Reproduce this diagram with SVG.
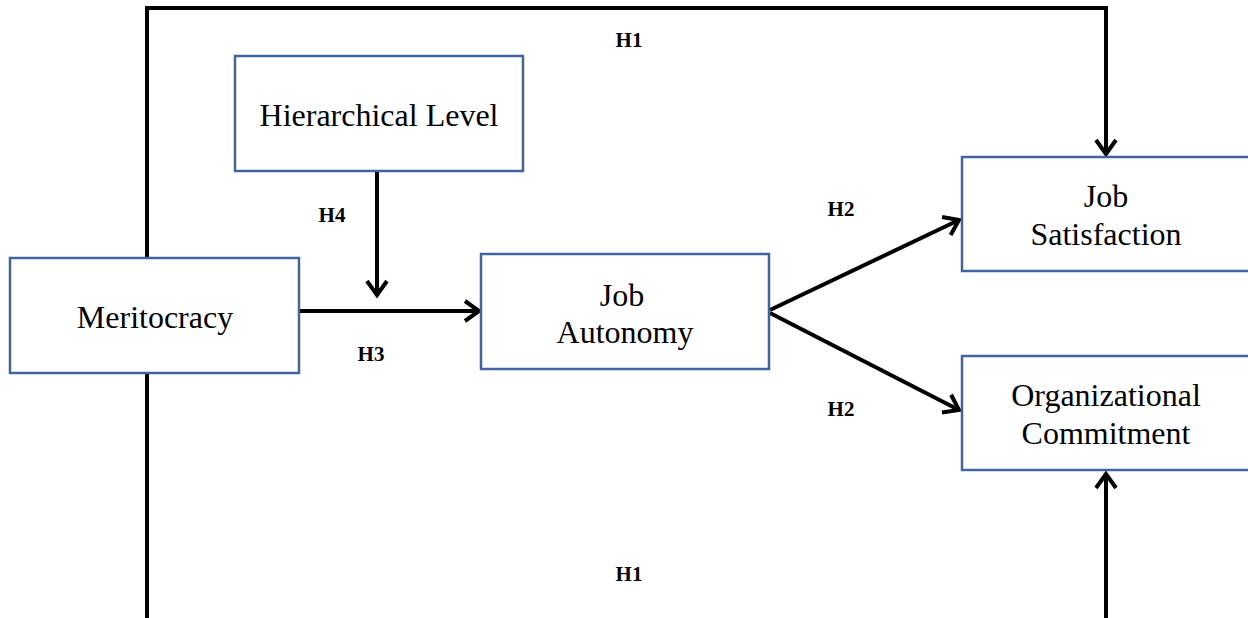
<svg xmlns="http://www.w3.org/2000/svg" width="1248" height="618" viewBox="0 0 1248 618">
<style>
.box{fill:#fff;stroke:#41649C;stroke-width:2.5}
.t{font-family:"Liberation Serif","Times New Roman",serif;font-size:32px;fill:#000;text-anchor:middle}
.l{font-family:"Liberation Serif","Times New Roman",serif;font-size:21px;font-weight:bold;fill:#000;text-anchor:middle}
.c{fill:none;stroke:#000;stroke-width:4}
</style>
<defs>
<marker id="ah" markerUnits="userSpaceOnUse" markerWidth="30" markerHeight="30" refX="15" refY="12" orient="auto" overflow="visible">
<path d="M1,2 L15,12 L1,22" fill="none" stroke="#000" stroke-width="4"/>
</marker>
</defs>
<rect width="1248" height="618" fill="#fff"/>
<g id="connectors">
<polyline class="c" points="147,258 147,8 1106,8 1106,154" marker-end="url(#ah)"/>
<line class="c" x1="147" y1="373" x2="147" y2="618"/>
<line class="c" x1="1106" y1="618" x2="1106" y2="474" marker-end="url(#ah)"/>
<line class="c" x1="377" y1="171" x2="377" y2="295" marker-end="url(#ah)"/>
<line class="c" x1="300" y1="311" x2="479" y2="311" marker-end="url(#ah)"/>
<line class="c" x1="770" y1="310" x2="959" y2="220" marker-end="url(#ah)"/>
<line class="c" x1="770" y1="313" x2="959" y2="410" marker-end="url(#ah)"/>
</g>
<g id="labels">
<text class="l" x="629" y="47">H1</text>
<text class="l" x="629" y="581">H1</text>
<text class="l" x="332" y="222">H4</text>
<text class="l" x="371" y="361">H3</text>
<text class="l" x="841" y="216">H2</text>
<text class="l" x="841" y="416">H2</text>
</g>
<g id="meritocracy">
<rect class="box" x="10" y="258" width="289" height="115"/>
<text class="t" x="155" y="328">Meritocracy</text>
</g>
<g id="hierarchical-level">
<rect class="box" x="235" y="56" width="288" height="115"/>
<text class="t" x="379" y="126">Hierarchical Level</text>
</g>
<g id="job-autonomy">
<rect class="box" x="481" y="254" width="288" height="115"/>
<text class="t" x="622" y="306">Job</text>
<text class="t" x="625" y="343">Autonomy</text>
</g>
<g id="job-satisfaction">
<rect class="box" x="962" y="157" width="296" height="114"/>
<text class="t" x="1106" y="207">Job</text>
<text class="t" x="1106" y="245">Satisfaction</text>
</g>
<g id="organizational-commitment">
<rect class="box" x="962" y="356" width="296" height="114"/>
<text class="t" x="1106" y="406">Organizational</text>
<text class="t" x="1106" y="444">Commitment</text>
</g>
</svg>
